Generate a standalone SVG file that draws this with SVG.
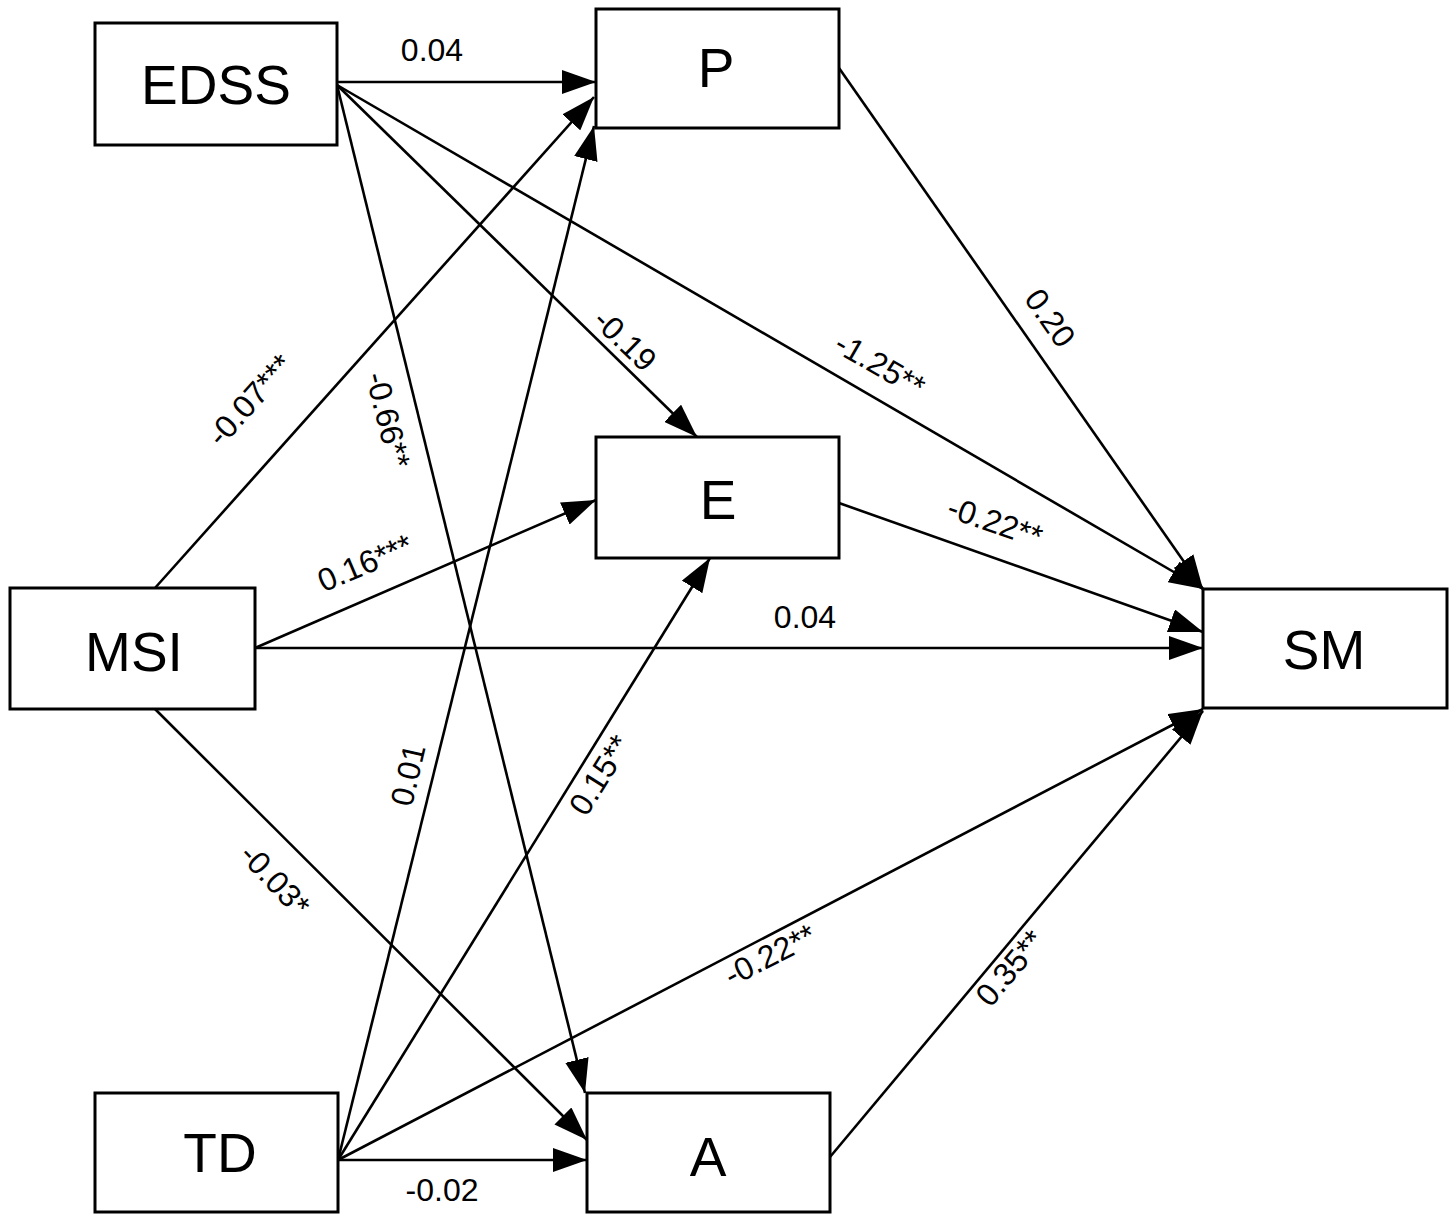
<svg xmlns="http://www.w3.org/2000/svg" width="1452" height="1216" viewBox="0 0 1452 1216">
<style>
.box{fill:#fff;stroke:#000;stroke-width:3}
.nl{font-family:"Liberation Sans",Arial,sans-serif;font-size:55px;text-anchor:middle;dominant-baseline:central;fill:#000}
.el{font-family:"Liberation Sans",Arial,sans-serif;font-size:32px;text-anchor:middle;dominant-baseline:central;fill:#000}
.c{stroke:#000;stroke-width:2.6;fill:none;marker-end:url(#ah)}
</style>
<defs>
<marker id="ah" viewBox="0 0 34 24" markerWidth="34" markerHeight="24" refX="34" refY="12" orient="auto" markerUnits="userSpaceOnUse">
<path d="M0,0 L34,12 L0,24 z" fill="#000"/>
</marker>
</defs>
<rect width="1452" height="1216" fill="#fff"/>
<g id="connectors">
<line class="c" x1="337" y1="82" x2="596" y2="82"/>
<line class="c" x1="337" y1="85" x2="697" y2="437"/>
<line class="c" x1="337" y1="85" x2="1203" y2="589"/>
<line class="c" x1="337" y1="85" x2="585" y2="1093"/>
<line class="c" x1="155" y1="588" x2="594" y2="97"/>
<line class="c" x1="338" y1="1160" x2="594" y2="126"/>
<line class="c" x1="255" y1="648" x2="596" y2="500"/>
<line class="c" x1="255" y1="648" x2="1203" y2="648"/>
<line class="c" x1="155" y1="709" x2="587" y2="1140"/>
<line class="c" x1="338" y1="1160" x2="710" y2="558"/>
<line class="c" x1="338" y1="1160" x2="1203" y2="709"/>
<line class="c" x1="338" y1="1160" x2="587" y2="1160"/>
<line class="c" x1="839" y1="68" x2="1203" y2="589"/>
<line class="c" x1="839" y1="503" x2="1203" y2="632"/>
<line class="c" x1="830" y1="1157" x2="1203" y2="711"/>
<text class="el" x="432" y="50">0.04</text>
<text class="el" transform="translate(625,340) rotate(44)">-0.19</text>
<text class="el" transform="translate(880,365) rotate(30)">-1.25**</text>
<text class="el" transform="translate(1050,318) rotate(55)">0.20</text>
<text class="el" transform="translate(250,400) rotate(-48)">-0.07***</text>
<text class="el" transform="translate(388,420) rotate(76)">-0.66**</text>
<text class="el" transform="translate(365,563) rotate(-23)">0.16***</text>
<text class="el" transform="translate(995,522) rotate(19)">-0.22**</text>
<text class="el" x="805" y="617">0.04</text>
<text class="el" transform="translate(408,775) rotate(-77)">0.01</text>
<text class="el" transform="translate(600,775) rotate(-58)">0.15**</text>
<text class="el" transform="translate(275,880) rotate(47)">-0.03*</text>
<text class="el" transform="translate(770,955) rotate(-27)">-0.22**</text>
<text class="el" transform="translate(1010,968) rotate(-50)">0.35**</text>
<text class="el" x="442" y="1190">-0.02</text>
</g>
<g id="EDSS"><rect class="box" x="95" y="23" width="242" height="122"/><text class="nl" x="216" y="85">EDSS</text></g>
<g id="P"><rect class="box" x="596" y="9" width="243" height="119"/><text class="nl" x="716" y="68">P</text></g>
<g id="E"><rect class="box" x="596" y="437" width="243" height="121"/><text class="nl" x="718" y="500">E</text></g>
<g id="MSI"><rect class="box" x="10" y="588" width="245" height="121"/><text class="nl" x="134" y="652">MSI</text></g>
<g id="SM"><rect class="box" x="1203" y="589" width="244" height="119"/><text class="nl" x="1324" y="650">SM</text></g>
<g id="TD"><rect class="box" x="95" y="1093" width="243" height="119"/><text class="nl" x="220" y="1153">TD</text></g>
<g id="A"><rect class="box" x="587" y="1093" width="243" height="119"/><text class="nl" x="708" y="1157">A</text></g>
</svg>
